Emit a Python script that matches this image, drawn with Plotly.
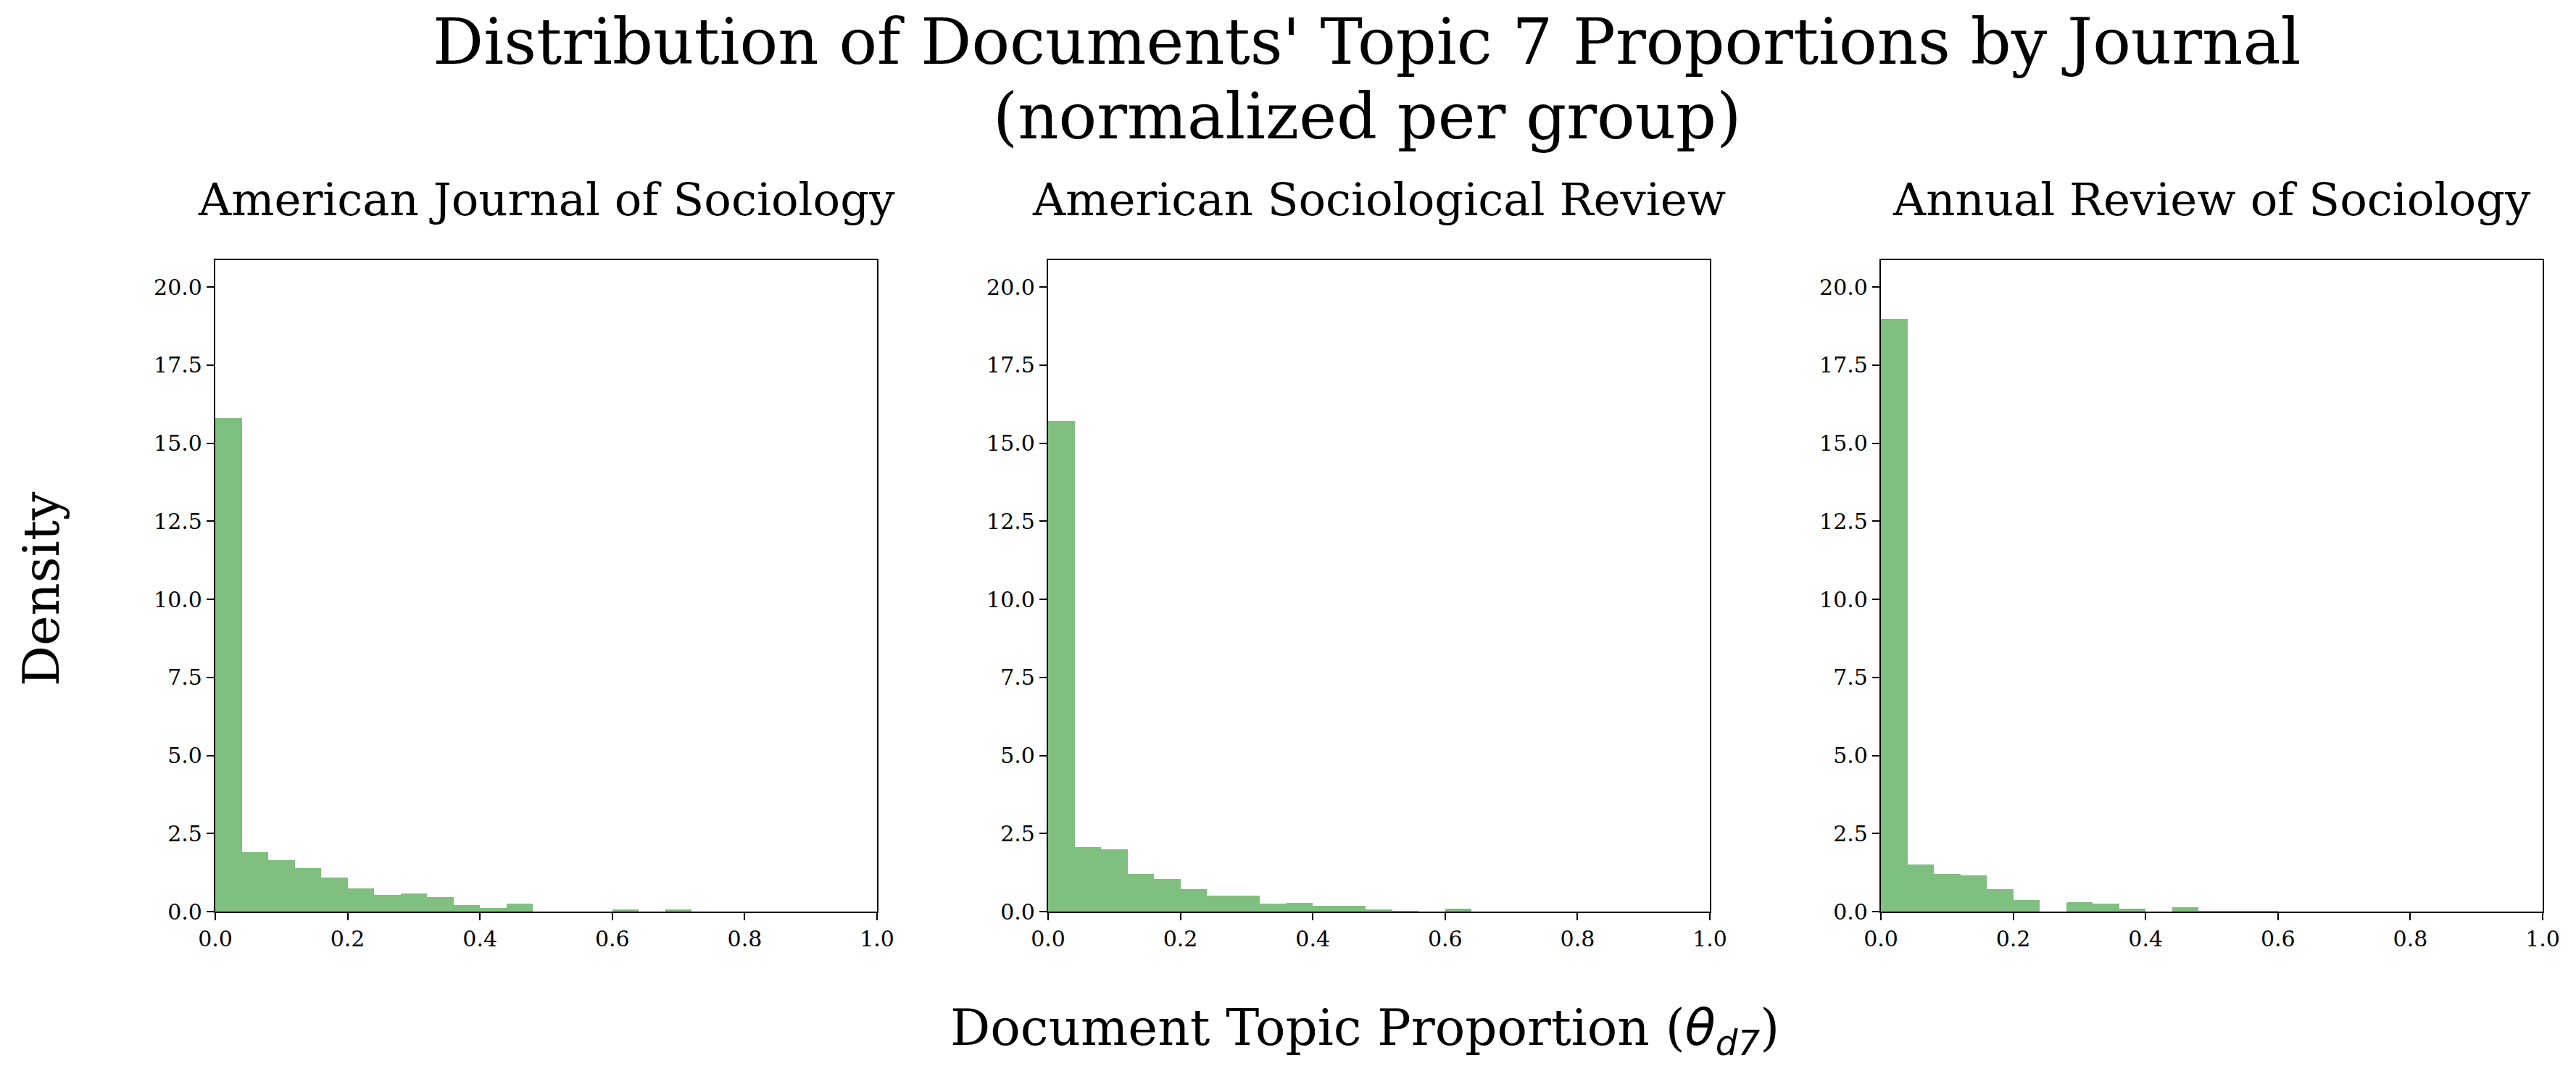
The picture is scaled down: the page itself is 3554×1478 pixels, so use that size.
import plotly.graph_objects as go

# Bin edges: 25 bins of width 0.04 on [0, 1]
bin_width = 0.04
bin_left = [round(i * bin_width, 2) for i in range(25)]

journals = ["American Journal of Sociology", "American Sociological Review", "Annual Review of Sociology"]

ajs_density = [15.81, 1.90, 1.65, 1.39, 1.10, 0.75, 0.54, 0.58, 0.47, 0.21, 0.12, 0.26,
               0.0, 0.0, 0.0, 0.06, 0.0, 0.06, 0.0, 0.0, 0.0, 0.0, 0.0, 0.0, 0.0]
asr_density = [15.72, 2.06, 1.99, 1.21, 1.05, 0.73, 0.50, 0.50, 0.25, 0.27, 0.18, 0.18,
               0.06, 0.03, 0.01, 0.09, 0.0, 0.0, 0.0, 0.0, 0.0, 0.0, 0.0, 0.0, 0.0]
ars_density = [18.99, 1.50, 1.20, 1.17, 0.71, 0.36, 0.0, 0.30, 0.25, 0.10, 0.01, 0.15,
               0.02, 0.02, 0.02, 0.0, 0.0, 0.0, 0.0, 0.0, 0.0, 0.0, 0.0, 0.0, 0.0]
densities = [ajs_density, asr_density, ars_density]

x_ticks = [0.0, 0.2, 0.4, 0.6, 0.8, 1.0]
y_ticks = [0.0, 2.5, 5.0, 7.5, 10.0, 12.5, 15.0, 17.5, 20.0]

W, H = 3554, 1478
OFF = 8  # page body margin
x_domains = [(297 - OFF, 1210 - OFF), (1446 - OFF, 2359 - OFF), (2595 - OFF, 3508 - OFF)]
y_top, y_bot = 359 - OFF, 1258 - OFF
FONT = "DejaVu Serif"

fig = go.Figure()
for i, (name, dens) in enumerate(zip(journals, densities)):
    ax = "" if i == 0 else str(i + 1)
    fig.add_trace(go.Bar(
        x=[b + bin_width / 2 for b in bin_left], y=dens, width=bin_width,
        marker=dict(color="rgba(0,128,0,0.5)", line=dict(width=0)),
        xaxis="x" + ax, yaxis="y" + ax, showlegend=False, name=name,
    ))
    d0, d1 = x_domains[i]
    axis_common = dict(showline=True, linecolor="black", linewidth=2.2, mirror=True,
                       ticks="outside", ticklen=10, tickwidth=2.2, tickcolor="black",
                       showgrid=False, zeroline=False, automargin=False,
                       tickfont=dict(family=FONT, size=30, color="black"))
    fig.update_layout(**{
        "xaxis" + ax: dict(domain=[d0 / W, d1 / W], range=[0, 1], tickvals=x_ticks,
                           ticktext=[f"{v:.1f}" for v in x_ticks], anchor="y" + ax, **axis_common),
        "yaxis" + ax: dict(domain=[1 - y_bot / H, 1 - y_top / H], range=[0, 20.86], tickvals=y_ticks,
                           ticktext=[f"{v:.1f}" for v in y_ticks], anchor="x" + ax, **axis_common),
    })
    fig.add_annotation(text=name, x=(d0 + d1) / 2 / W, y=1 - 268 / H, xref="paper", yref="paper",
                       xanchor="center", yanchor="middle", showarrow=False,
                       font=dict(family=FONT, size=62.5, color="black"))

fig.add_annotation(text="Distribution of Documents' Topic 7 Proportions by Journal",
                   x=1878 / W, y=1 - 50 / H, xref="paper", yref="paper", xanchor="center",
                   yanchor="middle", showarrow=False, font=dict(family=FONT, size=87.5, color="black"))
fig.add_annotation(text="(normalized per group)",
                   x=1878 / W, y=1 - 153 / H, xref="paper", yref="paper", xanchor="center",
                   yanchor="middle", showarrow=False, font=dict(family=FONT, size=87.5, color="black"))
fig.add_annotation(text="Document Topic Proportion (<span style=\"font-family:'DejaVu Sans'\"><i>θ</i><sub><i>d7</i></sub></span>)",
                   x=1875 / W, y=1 - 1414 / H, xref="paper", yref="paper", xanchor="center",
                   yanchor="middle", showarrow=False, font=dict(family=FONT, size=69, color="black"))
fig.add_annotation(text="Density", x=49 / W, y=1 - 805 / H, xref="paper", yref="paper",
                   xanchor="center", yanchor="middle", textangle=-90, showarrow=False,
                   font=dict(family=FONT, size=70, color="black"))

fig.update_layout(width=W, height=H, margin=dict(l=0, r=0, t=0, b=0),
                  paper_bgcolor="white", plot_bgcolor="white", bargap=0)
fig.write_html("out.html")
